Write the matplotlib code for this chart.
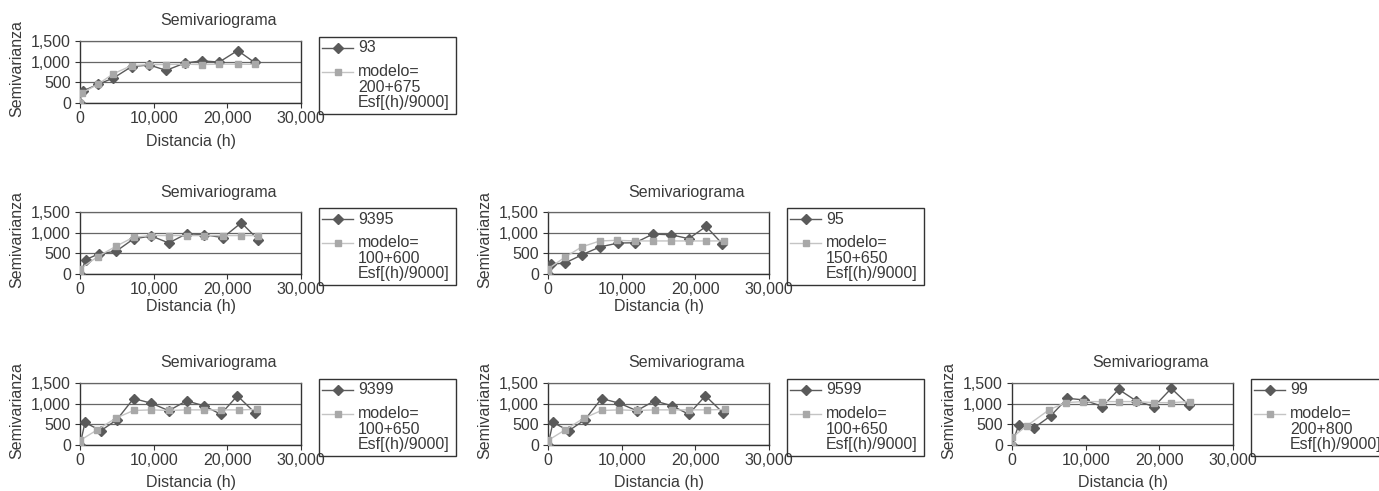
import numpy as np
import matplotlib
matplotlib.use("Agg")
import matplotlib.pyplot as plt
from matplotlib.lines import Line2D
from matplotlib.patches import Rectangle
from matplotlib.ticker import FuncFormatter

plt.rcParams["font.family"] = ["Liberation Sans", "DejaVu Sans"]

# Datos (distancia h, semivarianza)
h_93 = [0, 400, 2400, 4500, 7000, 9400, 11700, 14200, 16500, 18900, 21400, 23700]
g_93 = [0, 290, 450, 600, 880, 920, 790, 965, 1020, 990, 1270, 980]
hm_93 = [0, 300, 2400, 4500, 7000, 9400, 11700, 14200, 16500, 18900, 21400, 23700]
gm_93 = [0, 245, 450, 705, 905, 930, 930, 940, 930, 940, 940, 935]

h_9395 = [0, 800, 2600, 4900, 7270, 9690, 12050, 14460, 16900, 19400, 21900, 24200]
g_9395 = [0, 350, 490, 550, 850, 920, 750, 975, 950, 880, 1240, 830]
hm_9395 = [0, 0, 2400, 4870, 7270, 9690, 12050, 14460, 16900, 19400, 21900, 24200]
gm_9395 = [0, 120, 420, 670, 890, 930, 930, 930, 930, 930, 930, 930]

h_95 = [0, 360, 2360, 4680, 7050, 9550, 11830, 14230, 16690, 19100, 21460, 23640]
g_95 = [0, 230, 270, 470, 655, 750, 755, 965, 950, 855, 1150, 735]
hm_95 = [0, 0, 2360, 4580, 7050, 9320, 11830, 14230, 16690, 19100, 21460, 23900]
gm_95 = [0, 120, 415, 655, 800, 815, 800, 800, 800, 800, 800, 800]

h_9399 = [0, 680, 2820, 5000, 7270, 9690, 12050, 14460, 16870, 19100, 21370, 23780]
g_9399 = [0, 545, 345, 610, 1125, 1010, 830, 1070, 945, 745, 1190, 775]
hm_9399 = [0, 0, 2360, 4870, 7270, 9690, 12050, 14460, 16870, 19100, 21600, 24000]
gm_9399 = [0, 110, 370, 650, 835, 850, 835, 850, 850, 850, 850, 860]

h_9599 = [0, 680, 2820, 5000, 7270, 9690, 12050, 14460, 16870, 19100, 21370, 23780]
g_9599 = [0, 545, 345, 610, 1125, 1010, 830, 1070, 945, 745, 1190, 775]
hm_9599 = [0, 0, 2360, 4870, 7270, 9690, 12050, 14460, 16870, 19100, 21600, 24000]
gm_9599 = [0, 110, 370, 650, 835, 850, 835, 850, 850, 850, 850, 860]

h_99 = [0, 910, 2950, 5250, 7520, 9780, 12270, 14480, 16880, 19280, 21630, 23980]
g_99 = [0, 490, 410, 705, 1130, 1090, 930, 1345, 1065, 930, 1370, 970]
hm_99 = [0, 0, 2030, 5020, 7270, 9640, 12270, 14480, 16880, 19280, 21630, 24200]
gm_99 = [0, 185, 465, 850, 1025, 1050, 1050, 1050, 1050, 1025, 1025, 1050]

nombres = ["93", "9395", "95", "9399", "9599", "99"]
modelos = ["modelo=\n200+675\nEsf[(h)/9000]",
           "modelo=\n100+600\nEsf[(h)/9000]",
           "modelo=\n150+650\nEsf[(h)/9000]",
           "modelo=\n100+650\nEsf[(h)/9000]",
           "modelo=\n100+650\nEsf[(h)/9000]",
           "modelo=\n200+800\nEsf[(h)/9000]"]
datos = [(h_93, g_93, hm_93, gm_93), (h_9395, g_9395, hm_9395, gm_9395),
         (h_95, g_95, hm_95, gm_95), (h_9399, g_9399, hm_9399, gm_9399),
         (h_9599, g_9599, hm_9599, gm_9599), (h_99, g_99, hm_99, gm_99)]

# posicion de cada grafico: (izquierda, arriba) en pixeles, desplazamiento etiqueta x
W, H = 1379, 491
posiciones = [(80, 41, 39), (80, 212, 32), (548, 212, 32),
              (80, 383, 37), (548, 383, 37), (1012, 383, 37)]
AW, AH = 221, 62

TXT = "#3a3a3a"
OSCURO = "#5a5a5a"
CLARO = "#a8a8a8"
LINEA_CLARA = "#c4c4c4"
FS = 11.5
MS = 4.8

fig = plt.figure(figsize=(W / 100, H / 100), dpi=100)


def fx(x):
    return x / W


def fy(y):
    return 1 - y / H


for (x0, y0, dxl), nombre, modelo, (h, g, hm, gm) in zip(posiciones, nombres, modelos, datos):
    ax = fig.add_axes([fx(x0), fy(y0 + AH), AW / W, AH / H])
    ax.plot(h, g, color=OSCURO, lw=1, marker="D", ms=MS, mfc=OSCURO, mec=OSCURO, zorder=3)
    ax.plot(hm, gm, color=LINEA_CLARA, lw=1, marker="s", ms=MS - 0.3, mfc=CLARO, mec=CLARO, zorder=4)
    ax.set_xlim(0, 30000)
    ax.set_ylim(0, 1500)
    ax.set_xticks([0, 10000, 20000, 30000])
    ax.set_yticks([0, 500, 1000, 1500])
    fmt = FuncFormatter(lambda v, p: "{:,.0f}".format(v))
    ax.xaxis.set_major_formatter(fmt)
    ax.yaxis.set_major_formatter(fmt)
    ax.tick_params(direction="out", length=3.6, width=0.8, color="#333333",
                   labelsize=FS, labelcolor=TXT)
    ax.tick_params(axis="x", pad=2)
    ax.tick_params(axis="y", pad=3)
    ax.grid(axis="y", color="#666666", lw=0.9)
    ax.set_axisbelow(True)
    for s in ["left", "right", "bottom"]:
        ax.spines[s].set_color("#333333")
        ax.spines[s].set_linewidth(1.0)
    ax.spines["top"].set_color("#666666")
    ax.spines["top"].set_linewidth(0.9)

    fig.text(fx(x0 + 139), fy(y0 - 20), "Semivariograma", ha="center", va="center",
             fontsize=FS, color=TXT)
    fig.text(fx(x0 - 63), fy(y0 + AH / 2 - 3), "Semivarianza", rotation=90,
             ha="center", va="center", fontsize=FS, color=TXT)
    fig.text(fx(x0 + AW / 2), fy(y0 + AH + dxl), "Distancia (h)", ha="center",
             va="center", fontsize=FS, color=TXT)

    # leyenda
    lx, ly = x0 + 239, y0 - 4
    fig.add_artist(Rectangle((fx(lx), fy(ly + 77)), 137 / W, 77 / H, fill=False,
                             edgecolor="#333333", lw=1.0, transform=fig.transFigure))
    fig.add_artist(Line2D([fx(lx + 3), fx(lx + 34)], [fy(ly + 11)] * 2, color=OSCURO, lw=1,
                          transform=fig.transFigure))
    fig.add_artist(Line2D([fx(lx + 19)], [fy(ly + 11)], marker="D", ms=MS, color=OSCURO,
                          transform=fig.transFigure))
    fig.text(fx(lx + 39), fy(ly + 11), nombre, ha="left", va="center", fontsize=FS, color=TXT)
    fig.add_artist(Line2D([fx(lx + 3), fx(lx + 34)], [fy(ly + 35)] * 2, color=LINEA_CLARA, lw=1,
                          transform=fig.transFigure))
    fig.add_artist(Line2D([fx(lx + 19)], [fy(ly + 35)], marker="s", ms=MS - 0.3, color=CLARO,
                          transform=fig.transFigure))
    fig.text(fx(lx + 39), fy(ly + 27), modelo, ha="left", va="top", fontsize=FS,
             color=TXT, linespacing=1.05)

fig.savefig("out.png", dpi=100)
